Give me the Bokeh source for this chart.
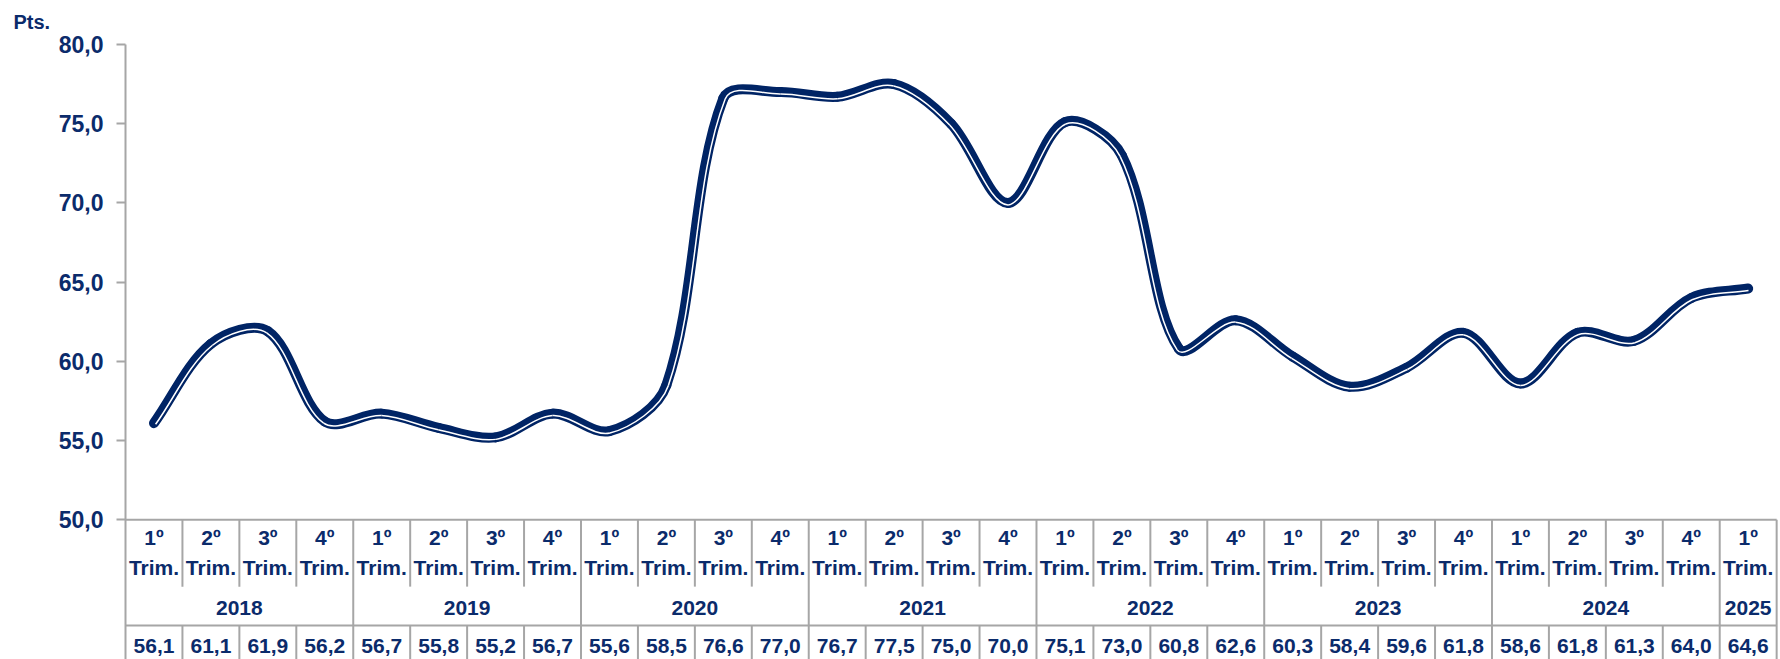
import numpy as np
from bokeh.plotting import figure
from bokeh.models import Range1d, FixedTicker
from bokeh.core.properties import value
from bokeh.embed import file_html
from bokeh.resources import INLINE

# ---------------- data ----------------
years = ["2018", "2019", "2020", "2021", "2022", "2023", "2024", "2025"]
quarters_per_year = [4, 4, 4, 4, 4, 4, 4, 1]
quarter_names = ["1º", "2º", "3º", "4º"]
values = [56.1, 61.1, 61.9, 56.2,
          56.7, 55.8, 55.2, 56.7,
          55.6, 58.5, 76.6, 77.0,
          76.7, 77.5, 75.0, 70.0,
          75.1, 73.0, 60.8, 62.6,
          60.3, 58.4, 59.6, 61.8,
          58.6, 61.8, 61.3, 64.0,
          64.6]
y_ticks = [50, 55, 60, 65, 70, 75, 80]
unit_label = "Pts."

# ---------------- derived ----------------
n = len(values)
quarter_labels = []
for q in quarters_per_year:
    quarter_labels += quarter_names[:q]
value_labels = [f"{v:.1f}".replace(".", ",") for v in values]
tick_labels = {t: f"{t:.1f}".replace(".", ",") for t in y_ticks}

NAVY = "#0b2b6b"
LINE = "#002465"
GRID = "#a6a6a6"
FONT = value("Liberation Sans")

W, H = 1780, 659
LEFT, RIGHT, TOP = 125, 1, 43
X_END = n + 0.05
Y_TOP = 80.0
Y_AXIS = 50.0
Y_Q_BOTTOM = 45.78
Y_YEAR_BOTTOM = 43.32
Y_BOTTOM = 41.18

p = figure(width=W, height=H, output_backend="svg", toolbar_location=None,
           x_range=Range1d(0, X_END), y_range=Range1d(Y_BOTTOM, Y_TOP),
           x_axis_location=None, min_border_left=LEFT, min_border_right=RIGHT,
           min_border_top=TOP, min_border_bottom=0)
p.outline_line_color = None
p.xgrid.visible = False
p.ygrid.visible = False
p.background_fill_color = "white"
p.border_fill_color = "white"

# unit label "Pts." as the title, pulled to the top-left corner
p.title.text = unit_label
p.title.align = "left"
p.title.offset = -112
p.title.standoff = 20
p.title.vertical_align = "top"
p.title.text_font = "Liberation Sans"
p.title.text_font_style = "bold"
p.title.text_font_size = "20px"
p.title.text_color = NAVY

# y axis
yax = p.yaxis[0]
yax.ticker = FixedTicker(ticks=y_ticks)
yax.major_label_overrides = tick_labels
yax.major_label_text_font = "Liberation Sans"
yax.major_label_text_font_style = "bold"
yax.major_label_text_font_size = "23px"
yax.major_label_text_color = NAVY
yax.major_label_standoff = 13
yax.major_tick_out = 9
yax.major_tick_in = 0
yax.minor_tick_out = 0
yax.minor_tick_in = 0
yax.axis_line_color = GRID
yax.axis_line_width = 2
yax.major_tick_line_color = GRID
yax.major_tick_line_width = 2

# ---------------- table lines ----------------
x0s, y0s, x1s, y1s = [], [], [], []
x0s += [0, 0]; x1s += [n, n]; y0s += [Y_AXIS, Y_YEAR_BOTTOM]; y1s += [Y_AXIS, Y_YEAR_BOTTOM]
bounds = np.cumsum([0] + quarters_per_year)
for i in range(1, n + 1):
    if i in bounds:
        x0s.append(i); x1s.append(i); y0s.append(Y_AXIS); y1s.append(Y_BOTTOM - 1)
    else:
        x0s.append(i); x1s.append(i); y0s.append(Y_AXIS); y1s.append(Y_Q_BOTTOM)
        x0s.append(i); x1s.append(i); y0s.append(Y_YEAR_BOTTOM); y1s.append(Y_BOTTOM - 1)
p.segment(x0=x0s, y0=y0s, x1=x1s, y1=y1s, line_color=GRID, line_width=2)

# ---------------- table text ----------------
centers = np.arange(n) + 0.5
txt = dict(text_align="center", text_baseline="middle", text_font=FONT,
           text_font_style="bold", text_font_size="21px", text_color=NAVY)
p.text(x=centers, y=[48.87] * n, text=quarter_labels, **txt)
p.text(x=centers, y=[47.0] * n, text=["Trim."] * n, **txt)
year_centers = [(bounds[k] + bounds[k + 1]) / 2 for k in range(len(years))]
p.text(x=year_centers, y=[44.45] * len(years), text=years, **txt)
p.text(x=centers, y=[42.06] * n, text=value_labels, **txt)

# ---------------- smoothed line (Bezier through the data points) ----------------
sx = (W - LEFT - RIGHT) / X_END          # px per x unit
sy = (H - TOP) / (Y_TOP - Y_BOTTOM)      # px per y unit
X = centers * sx
Y = np.array(values) * sy
P = np.stack([X, Y], axis=1)
prev = np.vstack([P[:1], P[:-1]])
nxt = np.vstack([P[1:], P[-1:]])
D = nxt - prev
Lp = np.linalg.norm(P - prev, axis=1)
Ln = np.linalg.norm(nxt - P, axis=1)
tot = Lp + Ln
t = 1.0 / 3.0
out_cp = P + D * (t * Ln / tot)[:, None]
in_cp = P - D * (t * Lp / tot)[:, None]

S0, S1 = P[:-1], P[1:]
C0, C1 = out_cp[:-1], in_cp[1:]


def to_data(a):
    return a[:, 0] / sx, a[:, 1] / sy


bx0, by0 = to_data(S0)
bx1, by1 = to_data(S1)
cx0, cy0 = to_data(C0)
cx1, cy1 = to_data(C1)
p.bezier(x0=bx0, y0=by0, x1=bx1, y1=by1, cx0=cx0, cy0=cy0, cx1=cx1, cy1=cy1,
         line_color=LINE, line_width=10, line_cap="round")

# thin white gap, offset towards the right-hand side (compound thick-thin line)
OFF = 2.0
T0 = C0 - S0
T1 = S1 - C1
N0 = np.stack([T0[:, 1], -T0[:, 0]], axis=1) / np.linalg.norm(T0, axis=1)[:, None]
N1 = np.stack([T1[:, 1], -T1[:, 0]], axis=1) / np.linalg.norm(T1, axis=1)[:, None]
wx0, wy0 = to_data(S0 + OFF * N0)
wcx0, wcy0 = to_data(C0 + OFF * N0)
wx1, wy1 = to_data(S1 + OFF * N1)
wcx1, wcy1 = to_data(C1 + OFF * N1)
p.bezier(x0=wx0, y0=wy0, x1=wx1, y1=wy1, cx0=wcx0, cy0=wcy0, cx1=wcx1, cy1=wcy1,
         line_color="white", line_width=1.5, line_cap="butt")

open("out.html", "w").write(file_html(p, INLINE))
